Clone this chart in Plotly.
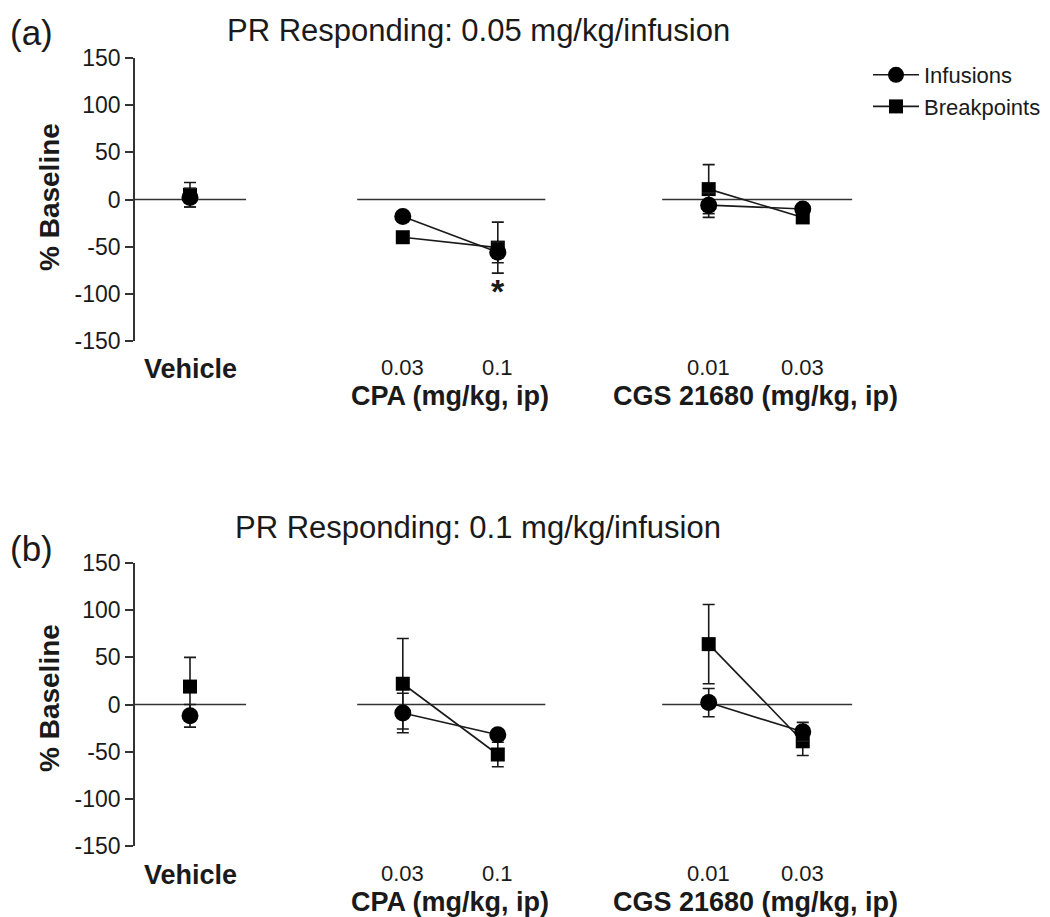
import plotly.graph_objects as go

# ---------------- data ----------------
group_labels = ["Vehicle", "CPA (mg/kg, ip)", "CGS 21680 (mg/kg, ip)"]
dose_labels = ["", "0.03", "0.1", "0.01", "0.03"]
series_names = ["Infusions", "Breakpoints"]

panel_titles = ["PR Responding: 0.05 mg/kg/infusion", "PR Responding: 0.1 mg/kg/infusion"]
panel_tags = ["(a)", "(b)"]

# Panel (a): 0.05 mg/kg/infusion
inf_a = [2, -18, -56, -6, -10]
inf_a_err = [10, 4, 11, 13, 4]
bp_a = [5, -40, -51, 11, -19]
bp_a_err = [13, 4, 27, 26, 5]

# Panel (b): 0.1 mg/kg/infusion
inf_b = [-12, -9, -32, 2, -29]
inf_b_err = [12, 21, 4, 15, 10]
bp_b = [19, 22, -53, 64, -39]
bp_b_err = [31, 48, 13, 42, 15]

y_ticks = [-150, -100, -50, 0, 50, 100, 150]
y_tick_text = [str(v) for v in y_ticks]
sig_value_a = -95  # asterisk below CPA 0.1 in panel (a)

# ---------------- layout helpers ----------------
W, H = 1050, 917
OFF = 8  # page body margin of the rendered html


def px(x):
    return (x - OFF) / W


def py(y):
    return 1 - (y - OFF) / H


x_pos = [0, 2.24, 3.24, 5.46, 6.45]          # category positions
groups_idx = [[0], [1, 2], [3, 4]]            # which points belong to which group
zero_spans = [(-0.58, 0.59), (1.76, 3.74), (4.97, 6.97)]
x_range = [-55 / 95, (W + OFF - 190) / 95]
x_dom = [px(135), 1.0]

y_doms = [[py(341), py(58)], [py(846), py(563)]]

FONT = "Liberation Sans, Arial, Helvetica, sans-serif"
INK = "#1a1a1a"
AX = "#333333"

fig = go.Figure()

panels = [
    (inf_a, inf_a_err, bp_a, bp_a_err),
    (inf_b, inf_b_err, bp_b, bp_b_err),
]

for p, (inf, inf_err, bp, bp_err) in enumerate(panels):
    xa = "x" if p == 0 else "x2"
    ya = "y" if p == 0 else "y2"
    # draw breakpoints (squares) first, infusions (circles) on top
    for name, vals, errs, sym, size, rank in [
        ("Breakpoints", bp, bp_err, "square", 14, 2),
        ("Infusions", inf, inf_err, "circle", 17, 1),
    ]:
        for g, idx in enumerate(groups_idx):
            fig.add_trace(go.Scatter(
                x=[x_pos[i] for i in idx],
                y=[vals[i] for i in idx],
                error_y=dict(type="data", array=[errs[i] for i in idx],
                             visible=True, color=INK, thickness=1.6, width=6),
                mode="lines+markers",
                line=dict(color=INK, width=1.6),
                marker=dict(symbol=sym, size=size, color="black"),
                name=name,
                legendgroup=name,
                legendrank=rank,
                showlegend=(p == 0 and g == 0),
                xaxis=xa, yaxis=ya,
                cliponaxis=False,
                hoverinfo="skip",
            ))
    # zero reference segments
    for (a, b) in zero_spans:
        fig.add_shape(type="line", x0=a, x1=b, y0=0, y1=0,
                      xref=xa, yref=ya, line=dict(color=AX, width=1.6), layer="below")

axis_common_y = dict(
    range=[-150, 150], tickvals=y_ticks, ticktext=y_tick_text, ticks="outside",
    ticklen=8, tickwidth=1.6, tickcolor=AX, showline=True, linewidth=1.6, linecolor=AX,
    showgrid=False, zeroline=False, tickfont=dict(size=23, family=FONT, color=INK),
    automargin=False,
)
axis_common_x = dict(range=x_range, domain=x_dom, visible=False, showgrid=False,
                     zeroline=False, automargin=False)

fig.update_layout(
    width=W, height=H,
    margin=dict(l=0, r=0, t=0, b=0, autoexpand=False),
    paper_bgcolor="white", plot_bgcolor="white",
    font=dict(family=FONT, color=INK),
    xaxis=dict(anchor="y", **axis_common_x),
    xaxis2=dict(anchor="y2", **axis_common_x),
    yaxis=dict(anchor="x", domain=y_doms[0], **axis_common_y),
    yaxis2=dict(anchor="x2", domain=y_doms[1], **axis_common_y),
    legend=dict(x=px(868), y=py(54), xanchor="left", yanchor="top",
                font=dict(size=22, family=FONT, color=INK),
                bgcolor="rgba(0,0,0,0)", traceorder="normal", tracegroupgap=18,
                itemwidth=46),
    showlegend=True,
)

ann = []
title_x = [225, 233]
title_y = [30, 527]
tag_y = [33, 548]
dose_y = [367, 873]
group_y = [396, 902]
ytitle_y = [197, 698]
for p in range(2):
    xa = "x" if p == 0 else "x2"
    ann.append(dict(text=panel_tags[p], x=0, y=py(tag_y[p]),
                    xref="paper", yref="paper", xanchor="left", yanchor="middle",
                    showarrow=False, font=dict(size=35, family=FONT, color=INK)))
    ann.append(dict(text=panel_titles[p], x=px(title_x[p]), y=py(title_y[p]), xref="paper",
                    yref="paper", xanchor="left", yanchor="middle", showarrow=False,
                    font=dict(size=31, family=FONT, color=INK)))
    ann.append(dict(text="<b>% Baseline</b>", x=px(49), y=py(ytitle_y[p]), xref="paper",
                    yref="paper", xanchor="center", yanchor="middle", textangle=-90,
                    showarrow=False, font=dict(size=28, family=FONT, color=INK)))
    ann.append(dict(text="<b>" + group_labels[0] + "</b>", x=x_pos[0], y=py(dose_y[p] + 2),
                    xref=xa, yref="paper", xanchor="center", yanchor="middle",
                    showarrow=False, font=dict(size=27, family=FONT, color=INK)))
    for i in range(1, 5):
        ann.append(dict(text=dose_labels[i], x=x_pos[i], y=py(dose_y[p]), xref=xa,
                        yref="paper", xanchor="center", yanchor="middle", showarrow=False,
                        font=dict(size=22, family=FONT, color=INK)))
    for g in (1, 2):
        idx = groups_idx[g]
        cx = (x_pos[idx[0]] + x_pos[idx[-1]]) / 2
        ann.append(dict(text="<b>" + group_labels[g] + "</b>", x=cx, y=py(group_y[p]),
                        xref=xa, yref="paper", xanchor="center", yanchor="middle",
                        showarrow=False, font=dict(size=27, family=FONT, color=INK)))

# significance asterisk
ann.append(dict(text="<b>*</b>", x=x_pos[2], y=sig_value_a, xref="x", yref="y",
                xanchor="center", yanchor="top", yshift=19, showarrow=False,
                font=dict(size=34, family=FONT, color=INK)))

fig.update_layout(annotations=ann)
fig.write_html("out.html")
